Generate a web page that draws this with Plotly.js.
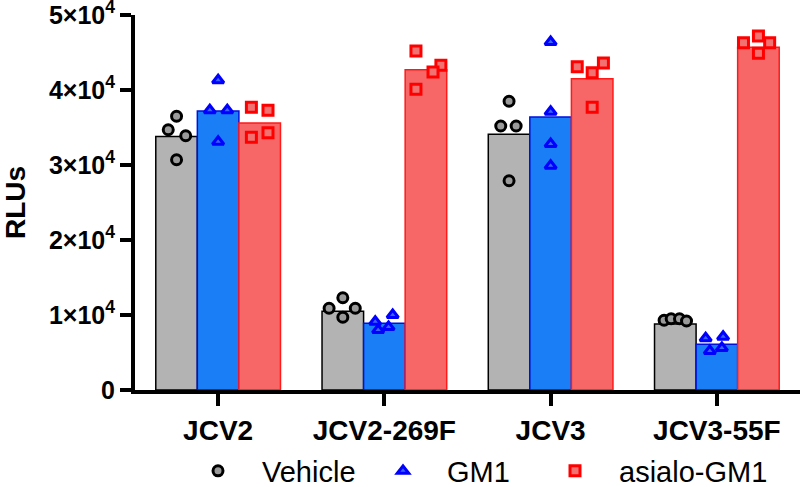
<!DOCTYPE html>
<html>
<head>
<meta charset="utf-8">
<script src="https://cdn.plot.ly/plotly-3.0.1.min.js"></script>
<style>html,body{margin:0;padding:0;background:#fff;}#chart{width:800px;height:487px;}</style>
</head>
<body>
<div id="chart"></div>
<script>
// ---- data ----
var categories = ['JCV2', 'JCV2-269F', 'JCV3', 'JCV3-55F'];
var seriesNames = ['Vehicle', 'GM1', 'asialo-GM1'];

// bar heights (RLUs)
var vehicleMean = [33800, 10500, 34100, 8800];
var gm1Mean     = [37200, 8900, 36400, 6100];
var asialoMean  = [35600, 42700, 41500, 45700];

// individual replicates per category (RLUs)
var vehiclePts = [[36500, 34700, 33900, 30700], [12300, 10900, 10900, 9700], [38500, 35200, 35200, 27900], [9300, 9500, 9500, 9200]];
var gm1Pts     = [[41300, 37300, 37300, 33100], [10000, 9100, 8000, 8400], [46400, 37100, 32800, 29900], [6900, 7100, 5200, 5600]];
var asialoPts  = [[37700, 37300, 33700, 34300], [45200, 43300, 42400, 40100], [43100, 42300, 43600, 37700], [47200, 46300, 46300, 44900]];

// horizontal jitter of replicates (fraction of a bar width)
var vehicleJit = [[0, -0.2, 0.22, 0], [0, -0.33, 0.3, 0], [0, -0.2, 0.17, 0], [-0.27, -0.1, 0.1, 0.27]];
var gm1Jit     = [[0, -0.2, 0.22, 0], [0.2, -0.22, -0.15, 0.1], [0, 0, 0, 0], [-0.27, 0.15, -0.17, 0.12]];
var asialoJit  = [[-0.2, 0.2, -0.2, 0.2], [-0.24, 0.36, 0.17, -0.24], [-0.36, 0, 0.27, 0], [0, -0.36, 0.27, 0]];

var yTickVals = [0, 10000, 20000, 30000, 40000, 50000];
var yTickText = ['0', '1×10<sup>4</sup>', '2×10<sup>4</sup>', '3×10<sup>4</sup>', '4×10<sup>4</sup>', '5×10<sup>4</sup>'];

// ---- styling ----
var FONT = 'Liberation Sans, Arial, Helvetica, sans-serif';
var bargap = 0.25;
var barW = (1 - bargap) / 3;
var styles = [
  {fill: '#b3b3b3', line: '#000000', mfill: '#9a9a9a', mline: '#000000', symbol: 'circle', size: 10},
  {fill: '#1a7ff7', line: '#0010e0', mfill: '#3a64ff', mline: '#0000ff', symbol: 'triangle-up', size: 10},
  {fill: '#f76767', line: '#ff1a1a', mfill: '#f27272', mline: '#ff0000', symbol: 'square', size: 10}
];
var means = [vehicleMean, gm1Mean, asialoMean];
var pts = [vehiclePts, gm1Pts, asialoPts];
var jits = [vehicleJit, gm1Jit, asialoJit];
var legendIds = ['legend', 'legend2', 'legend3'];

var xIdx = categories.map(function (c, i) { return i; });
var traces = [];
seriesNames.forEach(function (name, s) {
  traces.push({
    type: 'bar', x: xIdx, y: means[s], name: name, showlegend: false,
    marker: {color: styles[s].fill, line: {color: styles[s].line, width: 1.5}},
    hoverinfo: 'skip'
  });
});
seriesNames.forEach(function (name, s) {
  var xs = [], ys = [];
  var off = (s - 1) * barW;
  categories.forEach(function (c, i) {
    pts[s][i].forEach(function (v, k) {
      xs.push(i + off + jits[s][i][k] * barW);
      ys.push(v);
    });
  });
  traces.push({
    type: 'scatter', mode: 'markers', x: xs, y: ys, name: name,
    legend: legendIds[s], cliponaxis: false,
    marker: {symbol: styles[s].symbol, size: styles[s].size, color: styles[s].mfill,
             line: {color: styles[s].mline, width: 3}}
  });
});

function legendAt(px) {
  return {
    x: (px - 135) / 665, xanchor: 'left', y: -0.216, yanchor: 'middle',
    orientation: 'h', itemwidth: 78, bgcolor: 'rgba(0,0,0,0)', borderwidth: 0,
    font: {family: FONT, size: 29, color: '#000'}
  };
}

var layout = {
  width: 800, height: 487,
  margin: {l: 135, r: 0, t: 15, b: 97, pad: 0, autoexpand: false},
  paper_bgcolor: '#fff', plot_bgcolor: '#fff',
  barmode: 'group', bargap: bargap, bargroupgap: 0,
  showlegend: true,
  font: {family: FONT, color: '#000'},
  xaxis: {
    range: [-0.5, 3.5], tickmode: 'array', tickvals: xIdx, ticktext: categories,
    showgrid: false, zeroline: false, showline: true, linecolor: '#000', linewidth: 4,
    ticks: 'outside', ticklen: 12, tickwidth: 4, tickcolor: '#000',
    tickfont: {family: FONT, size: 28, weight: 'bold', color: '#000'},
    automargin: false
  },
  yaxis: {
    range: [0, 50000], tickmode: 'array', tickvals: yTickVals, ticktext: yTickText,
    showgrid: false, zeroline: false, showline: true, linecolor: '#000', linewidth: 4,
    ticks: 'outside', ticklen: 11, tickwidth: 4, tickcolor: '#000',
    ticklabeloverflow: 'allow',
    tickfont: {family: FONT, size: 25, weight: 'bold', color: '#000'},
    automargin: false,
    title: {text: 'RLUs', standoff: 22, font: {family: FONT, size: 28, weight: 'bold', color: '#000'}}
  },
  legend: legendAt(174),
  legend2: legendAt(359),
  legend3: legendAt(531)
};

Plotly.newPlot('chart', traces, layout, {displayModeBar: false, staticPlot: true});
</script>
</body>
</html>
